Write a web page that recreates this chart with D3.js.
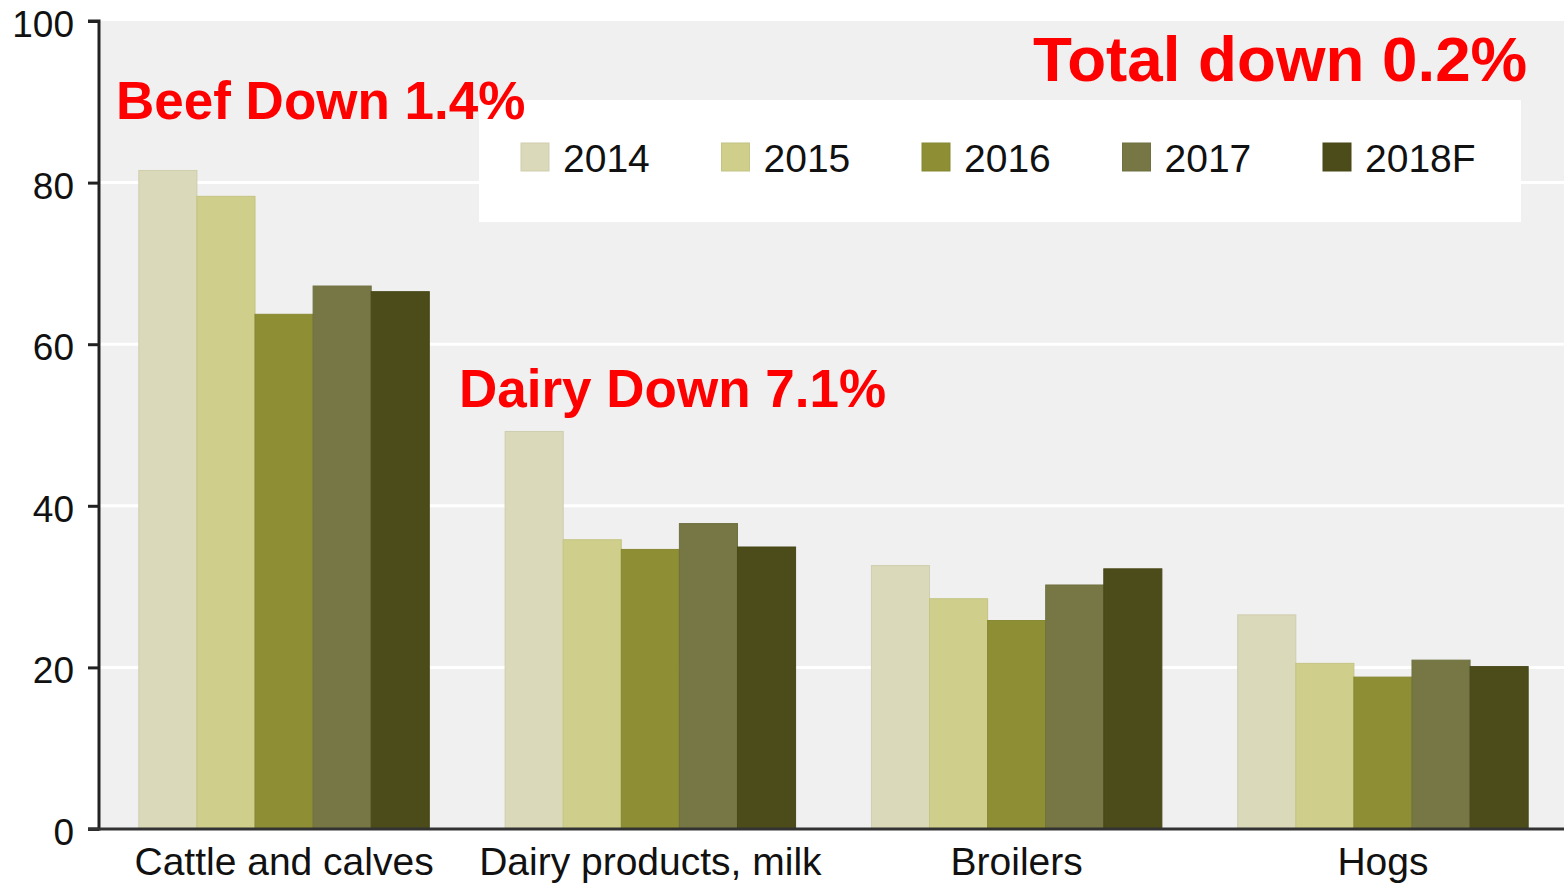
<!DOCTYPE html>
<html><head><meta charset="utf-8">
<script src="https://cdn.jsdelivr.net/npm/d3@7"></script>
<style>
html,body{margin:0;padding:0;background:#fff;}
svg{display:block;font-family:"Liberation Sans",Arial,sans-serif;}
</style></head>
<body><svg id="chart" width="1564" height="883"></svg>
<script>
const categories = ["Cattle and calves", "Dairy products, milk", "Broilers", "Hogs"];
const seriesNames = ["2014", "2015", "2016", "2017", "2018F"];
const v2014 = [81.5, 49.2, 32.6, 26.5];
const v2015 = [78.3, 35.8, 28.5, 20.5];
const v2016 = [63.7, 34.6, 25.8, 18.8];
const v2017 = [67.2, 37.8, 30.2, 20.9];
const v2018F = [66.5, 34.9, 32.2, 20.1];
const yTicks = [0, 20, 40, 60, 80, 100];
const colors = ["#dad9b9", "#cfcf8b", "#8e8e35", "#767745", "#4c4c1a"];
const annotations = [
  {text: "Beef Down 1.4%", x: 116, y: 119, size: 53},
  {text: "Dairy Down 7.1%", x: 459, y: 407, size: 53},
  {text: "Total down 0.2%", x: 1033, y: 81, size: 63.7}
];

const series = [v2014, v2015, v2016, v2017, v2018F];
const svg = d3.select("#chart");
const mLeft = 100, mRight = 1567, mTop = 21, mBottom = 829;

const x0 = d3.scaleBand().domain(categories).range([mLeft, mRight]).paddingInner(0.207).paddingOuter(0.106);
const x1 = d3.scaleBand().domain(seriesNames).range([0, x0.bandwidth()]);
const y = d3.scaleLinear().domain([0, 100]).range([mBottom, mTop]);

// plot background
svg.append("rect").attr("x", mLeft).attr("y", y(100)).attr("width", 1564 - mLeft).attr("height", mBottom - y(100)).attr("fill", "#f0f0f0");

// gridlines
svg.append("g").selectAll("line").data(yTicks.filter(t => t > 0 && t < 100)).join("line")
  .attr("x1", mLeft).attr("x2", 1564).attr("y1", d => y(d)).attr("y2", d => y(d))
  .attr("stroke", "#ffffff").attr("stroke-width", 3);

// bars
const g = svg.append("g");
categories.forEach((c, i) => {
  seriesNames.forEach((s, j) => {
    const v = series[j][i];
    g.append("rect")
      .attr("x", x0(c) + x1(s))
      .attr("y", y(v))
      .attr("width", x1.bandwidth())
      .attr("height", y(0) - y(v))
      .attr("fill", colors[j])
      .attr("stroke", d3.color(colors[j]).darker(0.15))
      .attr("stroke-width", 1);
  });
});

// y axis
const yAxis = d3.axisLeft(y).tickValues(yTicks).tickSize(11).tickPadding(14).tickFormat(d3.format("d"));
const ya = svg.append("g").attr("transform", `translate(${mLeft - 1},0)`).call(yAxis);
ya.select(".domain").attr("stroke", "#222").attr("stroke-width", 3).attr("d", `M-11,${y(100)}H0V${y(0)}H-11`);
ya.selectAll(".tick line").attr("stroke", "#222").attr("stroke-width", 3);
ya.selectAll(".tick text").attr("font-size", 37).attr("fill", "#111").attr("font-family", "Liberation Sans, Arial, sans-serif").attr("dy", "0.42em");

// x axis
const xAxis = d3.axisBottom(x0).tickSize(0).tickPadding(18);
const xa = svg.append("g").attr("transform", `translate(0,${mBottom})`).call(xAxis);
xa.select(".domain").attr("stroke", "#333").attr("stroke-width", 3).attr("d", `M${mLeft - 12},0H1564`);
xa.selectAll(".tick text").attr("font-size", 39).attr("fill", "#111").attr("font-family", "Liberation Sans, Arial, sans-serif");

// legend
const lg = svg.append("g");
lg.append("rect").attr("x", 479).attr("y", 100).attr("width", 1042).attr("height", 122).attr("fill", "#ffffff");
const legendX = d3.scalePoint().domain(seriesNames).range([521, 1323]);
seriesNames.forEach((s, j) => {
  lg.append("rect").attr("x", legendX(s)).attr("y", 143).attr("width", 28).attr("height", 28)
    .attr("fill", colors[j]).attr("stroke", d3.color(colors[j]).darker(0.15)).attr("stroke-width", 1);
  lg.append("text").attr("x", legendX(s) + 42).attr("y", 172).attr("font-size", 39).attr("fill", "#111").text(s);
});

// annotations
svg.append("g").selectAll("text").data(annotations).join("text")
  .attr("x", d => d.x).attr("y", d => d.y).attr("font-size", d => d.size)
  .attr("font-weight", "bold").attr("fill", "#ff0000").text(d => d.text);
</script></body></html>
